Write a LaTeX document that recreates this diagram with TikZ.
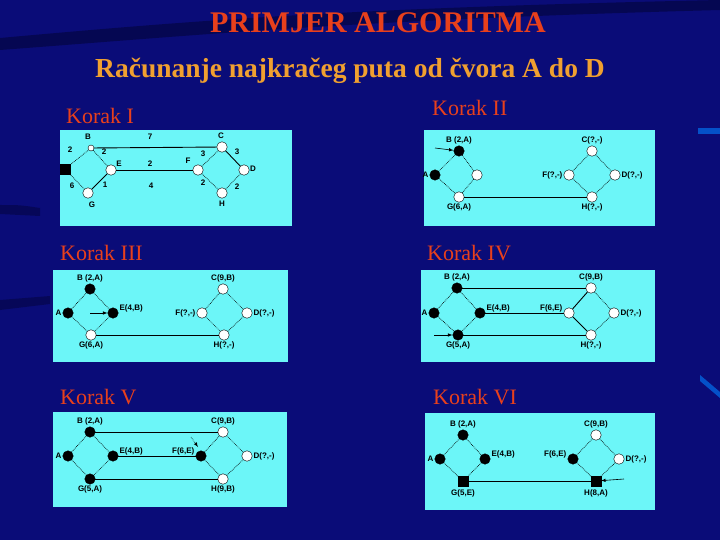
\documentclass[tikz,border=0pt]{standalone}
\usepackage{fontspec}
\setmainfont{Liberation Serif}
\newfontfamily\lsans{Liberation Sans}
\definecolor{navy}{HTML}{0A0C78}
\definecolor{dnavy}{HTML}{03043A}
\definecolor{panel}{HTML}{6CF6F8}
\definecolor{ttl}{HTML}{E8401C}
\definecolor{sub}{HTML}{F0A030}
\begin{document}
\begin{tikzpicture}[x=1pt,y=-1pt,
 wn/.style={circle,draw=black,fill=white,inner sep=0pt,minimum size=10.5pt},
 bn/.style={circle,draw=black,fill=black,inner sep=0pt,minimum size=10.5pt},
 bs/.style={rectangle,draw=black,fill=black,inner sep=0pt,minimum size=9.5pt},
 el/.style={densely dotted,line width=0.7pt},
 es/.style={line width=0.9pt},
 lab/.style={font=\lsans\bfseries\fontsize{8}{9}\selectfont,inner sep=1pt},
 ar/.style={-latex,line width=0.6pt},
 pnl/.style={fill=panel,draw=none},
 kor/.style={font=\fontsize{22}{24}\selectfont,text=ttl,anchor=west,inner sep=0pt}]
\useasboundingbox (0,0) rectangle (720,540);
\fill[navy] (0,0) rectangle (720,540);
\fill[dnavy,opacity=0.6] (0,38) .. controls (200,20) and (350,8) .. (720,0) -- (720,10) .. controls (350,20) and (200,35) .. (0,50) -- cycle;
\fill[dnavy,opacity=0.5] (0,205) .. controls (20,205) .. (40,208) -- (40,216) -- (0,214) -- cycle;
\fill[dnavy,opacity=0.5] (0,300) -- (50,296) -- (50,304) -- (0,310) -- cycle;
\fill[blue!50!cyan,opacity=0.6] (698,128) rectangle (720,134);
\fill[blue!50!cyan,opacity=0.6] (700,375) -- (720,392) -- (720,398) -- (700,381) -- cycle;
\node[font=\bfseries\fontsize{30}{32}\selectfont,text=ttl] (title) at (378,23) {PRIMJER ALGORITMA};
\node[font=\bfseries\fontsize{27.5}{29}\selectfont,text=sub] (subt) at (350,71) {Računanje najkračeg puta od čvora A do D};
\node[kor] (k1) at (66,116) {Korak I};
\node[kor] (k2) at (432,108) {Korak II};
\node[kor] (k3) at (60,253) {Korak III};
\node[kor] (k4) at (427,253) {Korak IV};
\node[kor] (k5) at (60,397) {Korak V};
\node[kor] (k6) at (433,397) {Korak VI};
% panels
\fill[pnl] (60,130) rectangle (292,226);
\fill[pnl] (424,130) rectangle (655,226);
\fill[pnl] (53,270) rectangle (288,362);
\fill[pnl] (421,270) rectangle (655,362);
\fill[pnl] (53,412) rectangle (287,507);
\fill[pnl] (425,413) rectangle (655,510);
% ---------- Panel 1
\node[bs] (aA) at (65,169) {};
\node[wn,minimum size=6pt] (aB) at (91,148) {};
\node[wn] (aC) at (222,147) {};
\node[wn] (aE) at (111,170) {};
\node[wn] (aF) at (198,170) {};
\node[wn] (aD) at (244,170) {};
\node[wn] (aG) at (88,193) {};
\node[wn] (aH) at (222,193) {};
\draw[el] (aA)--(aB); \draw[el] (aB)--(aE); \draw[el] (aA)--(aG); \draw[es] (aG)--(aE);
\draw[es] (aB)--(aC); \draw[es] (aE)--(aF); \draw[el] (aF)--(aC); \draw[es] (aC)--(aD);
\draw[el] (aF)--(aH); \draw[el] (aH)--(aD);
\node[lab] (l1) at (88,137) {B};
\node[lab] (l2) at (70,150) {2};
\node[lab] (l3) at (150,137) {7};
\node[lab] (l4) at (221,136) {C};
\node[lab] (l5) at (104,152) {2};
\node[lab] (l6) at (119,164) {E};
\node[lab] (l7) at (150,164) {2};
\node[lab] (l8) at (188,161) {F};
\node[lab] (l9) at (203,154) {3};
\node[lab] (l10) at (237,152) {3};
\node[lab] (l11) at (253,169) {D};
\node[lab] (l12) at (72,186) {6};
\node[lab] (l13) at (105,185) {1};
\node[lab] (l14) at (151,186) {4};
\node[lab] (l15) at (203,183) {2};
\node[lab] (l16) at (237,187) {2};
\node[lab] (l17) at (92,205) {G};
\node[lab] (l18) at (222,204) {H};
% ---------- Panel 2
\node[bn,label={[lab]above:B (2,A)}] (bB) at (459,151) {};
\node[bn,label={[lab]left:A}] (bA) at (435,175) {};
\node[wn] (bE) at (477,175) {};
\node[wn,label={[lab]below:G(6,A)}] (bG) at (459,197) {};
\node[wn,label={[lab]above:C(?,-)}] (bC) at (592,151) {};
\node[wn,label={[lab]left:F(?,-)}] (bF) at (569,175) {};
\node[wn,label={[lab]right:D(?,-)}] (bD) at (615,175) {};
\node[wn,label={[lab]below:H(?,-)}] (bH) at (592,197) {};
\draw[el] (bA)--(bB); \draw[el] (bB)--(bE); \draw[el] (bA)--(bG); \draw[el] (bE)--(bG);
\draw[es] (bG)--(bH);
\draw[el] (bF)--(bC); \draw[el] (bC)--(bD); \draw[el] (bF)--(bH); \draw[el] (bH)--(bD);
\coordinate (bs1) at (435,148);
\draw[ar] (bs1)--(bB);
% ---------- Panel 3
\node[bn,label={[lab]above:B (2,A)}] (cB) at (90,289) {};
\node[bn,label={[lab]left:A}] (cA) at (68,313) {};
\node[bn,label={[lab,anchor=south west]east:E(4,B)}] (cE) at (113,313) {};
\node[wn,label={[lab]below:G(6,A)}] (cG) at (91,335) {};
\node[wn,label={[lab]above:C(9,B)}] (cC) at (223,289) {};
\node[wn,label={[lab]left:F(?,-)}] (cF) at (202,313) {};
\node[wn,label={[lab]right:D(?,-)}] (cD) at (247,313) {};
\node[wn,label={[lab]below:H(?,-)}] (cH) at (224,335) {};
\draw[el] (cA)--(cB); \draw[el] (cB)--(cE); \draw[el] (cA)--(cG); \draw[el] (cE)--(cG);
\draw[es] (cG)--(cH);
\draw[el] (cF)--(cC); \draw[el] (cC)--(cD); \draw[el] (cF)--(cH); \draw[el] (cH)--(cD);
\coordinate (cs1) at (90,313);
\draw[ar] (cs1)--(cE);
% ---------- Panel 4
\node[bn,label={[lab]above:B (2,A)}] (dB) at (457,288) {};
\node[bn,label={[lab]left:A}] (dA) at (434,313) {};
\node[bn,label={[lab,anchor=south west]east:E(4,B)}] (dE) at (480,313) {};
\node[bn,label={[lab]below:G(5,A)}] (dG) at (458,335) {};
\node[wn,label={[lab]above:C(9,B)}] (dC) at (591,288) {};
\node[wn,label={[lab,anchor=south east]west:F(6,E)}] (dF) at (569,313) {};
\node[wn,label={[lab]right:D(?,-)}] (dD) at (614,313) {};
\node[wn,label={[lab]below:H(?,-)}] (dH) at (591,335) {};
\draw[el] (dA)--(dB); \draw[el] (dB)--(dE); \draw[el] (dA)--(dG); \draw[el] (dE)--(dG);
\draw[es] (dB)--(dC); \draw[es] (dE)--(dF); \draw[es] (dG)--(dH);
\draw[es] (dF)--(dC); \draw[es] (dF)--(dH); \draw[el] (dC)--(dD); \draw[el] (dH)--(dD);
\coordinate (ds1) at (434,335);
\draw[ar] (ds1)--(dG);
% ---------- Panel 5
\node[bn,label={[lab]above:B (2,A)}] (eB) at (90,432) {};
\node[bn,label={[lab]left:A}] (eA) at (68,456) {};
\node[bn,label={[lab,anchor=south west]east:E(4,B)}] (eE) at (113,456) {};
\node[bn,label={[lab]below:G(5,A)}] (eG) at (90,479) {};
\node[wn,label={[lab]above:C(9,B)}] (eC) at (223,432) {};
\node[bn,label={[lab,anchor=south east]west:F(6,E)}] (eF) at (201,456) {};
\node[wn,label={[lab]right:D(?,-)}] (eD) at (247,456) {};
\node[wn,label={[lab]below:H(9,B)}] (eH) at (223,479) {};
\draw[el] (eA)--(eB); \draw[el] (eB)--(eE); \draw[el] (eA)--(eG); \draw[el] (eE)--(eG);
\draw[es] (eB)--(eC); \draw[es] (eE)--(eF); \draw[es] (eG)--(eH);
\draw[el] (eF)--(eC); \draw[el] (eF)--(eH); \draw[el] (eC)--(eD); \draw[el] (eH)--(eD);
\coordinate (es1) at (191,437);
\coordinate (es2) at (198,447);
\draw[ar,densely dotted] (es1)--(es2);
% ---------- Panel 6
\node[bn,label={[lab]above:B (2,A)}] (fB) at (463,435) {};
\node[bn,label={[lab]left:A}] (fA) at (440,459) {};
\node[bn,label={[lab,anchor=south west]east:E(4,B)}] (fE) at (485,459) {};
\node[bs,label={[lab,yshift=-3pt]below:G(5,E)}] (fG) at (463,481) {};
\node[wn,label={[lab]above:C(9,B)}] (fC) at (596,435) {};
\node[bn,label={[lab,anchor=south east]west:F(6,E)}] (fF) at (573,459) {};
\node[wn,label={[lab]right:D(?,-)}] (fD) at (619,459) {};
\node[bs,label={[lab,yshift=-3pt]below:H(8,A)}] (fH) at (596,481) {};
\draw[el] (fA)--(fB); \draw[el] (fB)--(fE); \draw[el] (fA)--(fG); \draw[el] (fE)--(fG);
\draw[es] (fG)--(fH);
\draw[el] (fF)--(fC); \draw[el] (fC)--(fD); \draw[el] (fF)--(fH); \draw[el] (fH)--(fD);
\coordinate (fs1) at (624,479);
\draw[ar] (fs1)--(fH);
\end{tikzpicture}
\end{document}
